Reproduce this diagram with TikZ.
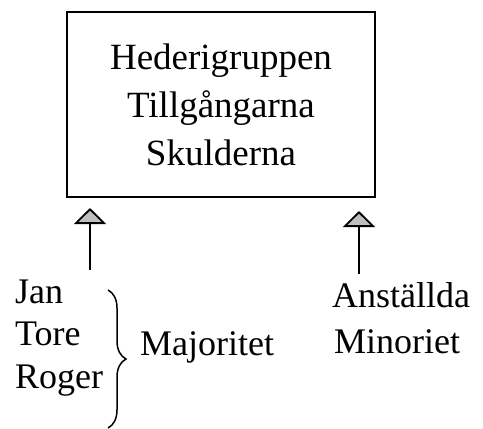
\documentclass[tikz,border=0pt]{standalone}
\usepackage{fontspec}
\setmainfont{Liberation Serif}
\usetikzlibrary{arrows.meta,decorations.pathreplacing}
\tikzset{
  lbl/.style={inner sep=0pt, anchor=base west, font=\fontsize{36}{46}\selectfont},
  mainbox/.style={draw, line width=1.8pt, align=center, inner sep=0pt,
    minimum width=308pt, minimum height=185pt, font=\fontsize{37}{48}\selectfont},
  uparrow/.style={line width=1.8pt, -{Triangle[width=32pt,length=16pt,fill=gray!50]}},
  brc/.style={line width=1.5pt, decorate, decoration={brace, amplitude=18pt}}
}
\begin{document}
\begin{tikzpicture}[x=1pt,y=-1pt]
\useasboundingbox (0,0) rectangle (483,429);
\node[mainbox] (box) at (221,104.5) {Hederigruppen\\Tillgångarna\\Skulderna};
\coordinate (a1s) at (90,270);
\coordinate (a1e) at (90,208);
\coordinate (a2s) at (359,274);
\coordinate (a2e) at (359,211);
\draw[uparrow] (a1s) -- (a1e);
\draw[uparrow] (a2s) -- (a2e);
\node[lbl] (jan) at (15,303) {Jan};
\node[lbl] (tore) at (15,345) {Tore};
\node[lbl] (roger) at (15,388) {Roger};
\node[lbl] (maj) at (140,355) {Majoritet};
\node[lbl] (ans) at (332,307) {Anställda};
\node[lbl] (min) at (334,353) {Minoriet};
\coordinate (b1) at (108,290);
\coordinate (b2) at (108,428);
\draw[brc] (b1) -- (b2);
\end{tikzpicture}
\end{document}
